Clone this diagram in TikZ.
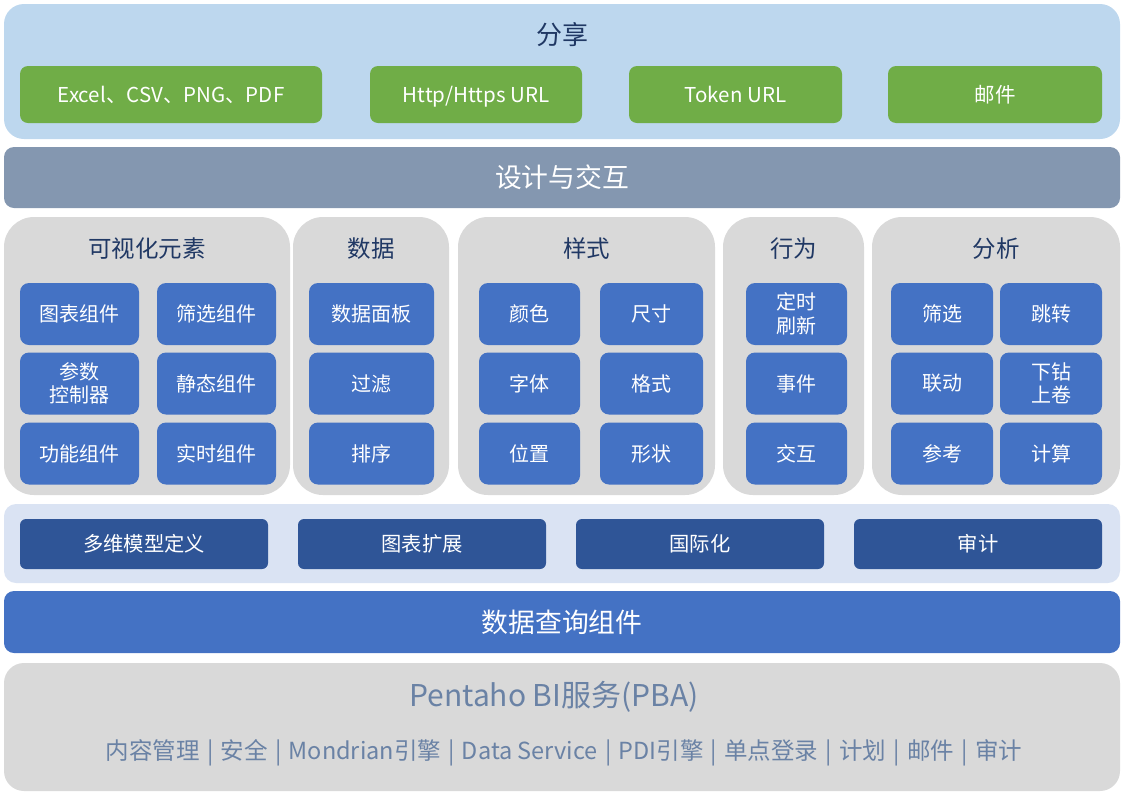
\documentclass[tikz,border=0pt]{standalone}
\usepackage{fontspec}
\setmainfont{Noto Sans CJK SC}
\definecolor{panelblue}{HTML}{BDD7EE}
\definecolor{greenbox}{HTML}{70AD47}
\definecolor{designbar}{HTML}{8497B0}
\definecolor{groupgray}{HTML}{D9D9D9}
\definecolor{bluebox}{HTML}{4472C4}
\definecolor{lightpanel}{HTML}{DAE3F3}
\definecolor{darkbox}{HTML}{2F5597}
\definecolor{navytext}{HTML}{203864}
\definecolor{slatetext}{HTML}{6A82A5}
\newcommand{\barsep}{\hspace{2pt} | \hspace{2pt}}
\tikzset{
  panel/.style={draw=none, inner sep=0pt, minimum width=1116pt},
  greenbtn/.style={fill=greenbox, rounded corners=8pt, text=white, inner sep=0pt, minimum height=57pt, text height=17pt, text depth=2pt, font=\fontsize{20.5}{24}\selectfont},
  groupbox/.style={fill=groupgray, rounded corners=30pt, inner sep=0pt, minimum height=278pt},
  grouptitle/.style={text=navytext, font=\fontsize{23.5}{27}\selectfont, inner sep=0pt},
  bluebtn/.style={fill=bluebox, rounded corners=9pt, text=white, inner sep=0pt, minimum height=62pt, align=center, font=\fontsize{20}{23.5}\selectfont},
  darkbtn/.style={fill=darkbox, rounded corners=6pt, text=white, inner sep=0pt, minimum height=50pt, minimum width=248pt, font=\fontsize{20.3}{24}\selectfont},
}
\begin{document}
\begin{tikzpicture}[x=1pt,y=-1pt]
\useasboundingbox (0,0) rectangle (1126,801);
% share panel
\node[panel, fill=panelblue, rounded corners=20pt, minimum height=135pt] (share) at (562,71.5) {};
\node[grouptitle, font=\fontsize{26}{30}\selectfont] (sharet) at (562,35) {分享};
\node[greenbtn, minimum width=302pt] (g1) at (171,94.5) {Excel、CSV、PNG、PDF};
\node[greenbtn, minimum width=212pt] (g2) at (476,94.5) {Http/Https URL};
\node[greenbtn, minimum width=213pt] (g3) at (735.5,94.5) {Token URL};
\node[greenbtn, minimum width=214pt] (g4) at (995,94.5) {邮件};
% design bar
\node[panel, fill=designbar, rounded corners=10pt, minimum height=61pt, text=white, font=\fontsize{26.8}{30}\selectfont] (design) at (562,177.5) {设计与交互};
% groups
\node[groupbox, minimum width=286pt] (vis) at (147,356) {};
\node[grouptitle] (vist) at (147,249) {可视化元素};
\node[groupbox, minimum width=156pt] (data) at (371,356) {};
\node[grouptitle] (datat) at (371,249) {数据};
\node[groupbox, minimum width=257pt] (style) at (586.5,356) {};
\node[grouptitle] (stylet) at (586.5,249) {样式};
\node[groupbox, minimum width=141pt] (behav) at (793.5,356) {};
\node[grouptitle] (behavt) at (793.5,249) {行为};
\node[groupbox, minimum width=248pt] (anal) at (996,356) {};
\node[grouptitle] (analt) at (996,249) {分析};
% group 1
\node[bluebtn, minimum width=119pt] (v1) at (79.5,314) {图表组件};
\node[bluebtn, minimum width=119pt] (v2) at (216.5,314) {筛选组件};
\node[bluebtn, minimum width=119pt] (v3) at (79.5,383.5) {参数\\控制器};
\node[bluebtn, minimum width=119pt] (v4) at (216.5,383.5) {静态组件};
\node[bluebtn, minimum width=119pt] (v5) at (79.5,453.5) {功能组件};
\node[bluebtn, minimum width=119pt] (v6) at (216.5,453.5) {实时组件};
% group 2
\node[bluebtn, minimum width=125pt] (d1) at (371.5,314) {数据面板};
\node[bluebtn, minimum width=125pt] (d2) at (371.5,383.5) {过滤};
\node[bluebtn, minimum width=125pt] (d3) at (371.5,453.5) {排序};
% group 3
\node[bluebtn, minimum width=101pt] (s1) at (529.5,314) {颜色};
\node[bluebtn, minimum width=103pt] (s2) at (651.5,314) {尺寸};
\node[bluebtn, minimum width=101pt] (s3) at (529.5,383.5) {字体};
\node[bluebtn, minimum width=103pt] (s4) at (651.5,383.5) {格式};
\node[bluebtn, minimum width=101pt] (s5) at (529.5,453.5) {位置};
\node[bluebtn, minimum width=103pt] (s6) at (651.5,453.5) {形状};
% group 4
\node[bluebtn, minimum width=101pt] (b1) at (796.5,314) {定时\\刷新};
\node[bluebtn, minimum width=101pt] (b2) at (796.5,383.5) {事件};
\node[bluebtn, minimum width=101pt] (b3) at (796.5,453.5) {交互};
% group 5
\node[bluebtn, minimum width=102pt] (a1) at (942,314) {筛选};
\node[bluebtn, minimum width=102pt] (a2) at (1051,314) {跳转};
\node[bluebtn, minimum width=102pt] (a3) at (942,383.5) {联动};
\node[bluebtn, minimum width=102pt] (a4) at (1051,383.5) {下钻\\上卷};
\node[bluebtn, minimum width=102pt] (a5) at (942,453.5) {参考};
\node[bluebtn, minimum width=102pt] (a6) at (1051,453.5) {计算};
% layer 4
\node[panel, fill=lightpanel, rounded corners=12pt, minimum height=79pt] (ext) at (562,543.5) {};
\node[darkbtn] (e1) at (144,544) {多维模型定义};
\node[darkbtn] (e2) at (422,544) {图表扩展};
\node[darkbtn] (e3) at (700,544) {国际化};
\node[darkbtn] (e4) at (978,544) {审计};
% query bar
\node[panel, fill=bluebox, rounded corners=10pt, minimum height=62pt, text=white, font=\fontsize{26.8}{30}\selectfont] (query) at (562,622) {数据查询组件};
% bottom
\node[panel, fill=groupgray, rounded corners=20pt, minimum height=128pt] (pba) at (562,727) {};
\node[text=slatetext, inner sep=0pt, font=\fontsize{30}{34}\selectfont] (pbat) at (554,697) {Pentaho BI服务(PBA)};
\node[text=slatetext, inner sep=0pt, font=\fontsize{23.5}{27}\selectfont] (pbal) at (564,753) {内容管理\barsep 安全\barsep Mondrian引擎\barsep Data Service\barsep PDI引擎\barsep 单点登录\barsep 计划\barsep 邮件\barsep 审计};
\end{tikzpicture}
\end{document}
